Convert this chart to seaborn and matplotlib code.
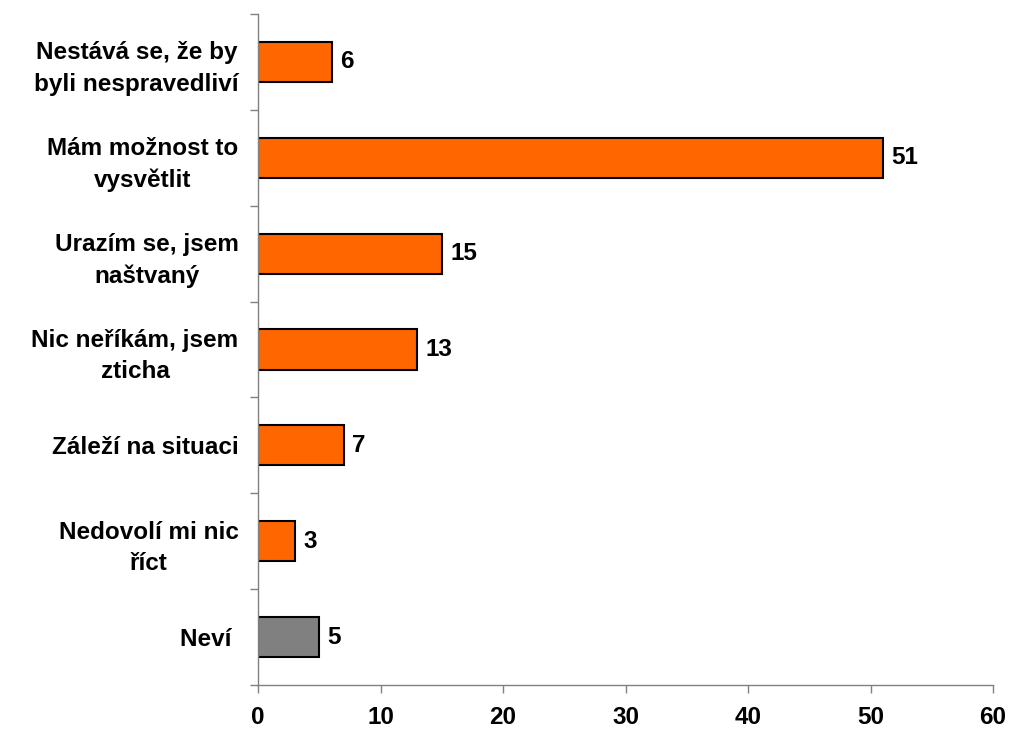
import matplotlib
matplotlib.use("Agg")
import matplotlib.pyplot as plt
import seaborn as sns
import pandas as pd
import numpy as np

categories = [
    "Nestává se, že by\nbyli nespravedliví",
    "Mám možnost to\nvysvětlit",
    "Urazím se, jsem\nnaštvaný",
    "Nic neříkám, jsem\nzticha",
    "Záleží na situaci",
    "Nedovolí mi nic\nříct",
    "Neví ",
]
values = [6, 51, 15, 13, 7, 3, 5]
colors = ["#FF6600"] * 6 + ["#808080"]
x_ticks = [0, 10, 20, 30, 40, 50, 60]

sns.set_style("white")
plt.rcParams['font.family'] = ['Liberation Sans', 'DejaVu Sans']
plt.rcParams['font.weight'] = 'bold'
plt.rcParams['text.color'] = 'black'
plt.rcParams['xtick.color'] = 'black'
plt.rcParams['ytick.color'] = 'black'
plt.rcParams['xtick.labelcolor'] = 'black'
plt.rcParams['ytick.labelcolor'] = 'black'

FS = 17.5

df = pd.DataFrame({"cat": categories, "val": values})

fig = plt.figure(figsize=(10.1, 7.31), dpi=100)
ax = fig.add_axes([258/1010, 46/731, (993-258)/1010, (685-14)/731])

sns.barplot(data=df, y="cat", x="val", hue="cat", palette=colors, legend=False,
            orient="h", width=0.42, edgecolor="black", linewidth=1.5, ax=ax, saturation=1)

ax.set_xlim(0, 60)
ax.set_ylim(len(categories) - 0.5, -0.5)
ax.set_xticks(x_ticks)
ax.set_xticklabels([str(t) for t in x_ticks], fontsize=FS, fontweight='bold', color='black')
ax.set_xlabel("")
ax.set_ylabel("")

ax.set_yticks(range(len(categories)))
ax.set_yticklabels(categories, fontsize=FS, fontweight='bold', multialignment='center',
                   color='black', linespacing=1.45)
ax.set_yticks(np.arange(-0.5, len(categories), 1.0), minor=True)
ax.tick_params(axis='y', which='major', length=0, pad=14)
ax.tick_params(axis='y', which='minor', length=6, width=1, color='#808080', direction='out', left=True)
ax.tick_params(axis='x', which='major', length=6, width=1, color='#808080', direction='out', pad=9, bottom=True)

for s in ["top", "right"]:
    ax.spines[s].set_visible(False)
for s in ["left", "bottom"]:
    ax.spines[s].set_color("#808080")
    ax.spines[s].set_linewidth(1)

for c in ax.containers:
    ax.bar_label(c, fmt="%g", padding=6, fontsize=FS, fontweight='bold', color='black')

fig.savefig("out.png", dpi=100)
